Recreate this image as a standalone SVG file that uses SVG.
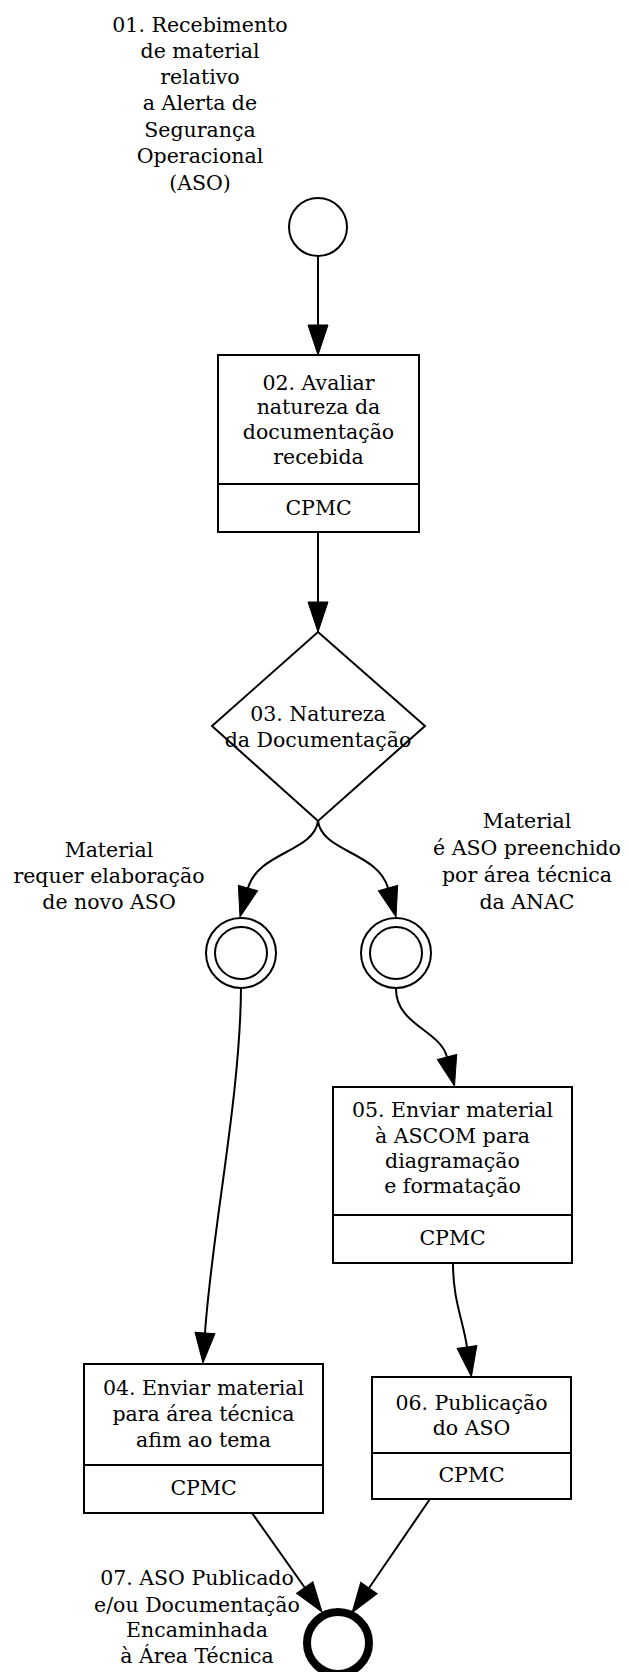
<svg xmlns="http://www.w3.org/2000/svg" width="629" height="1672" viewBox="0 0 629 1672">
<style>
text{font-family:"DejaVu Serif","Liberation Serif",serif;font-size:20.5px;fill:#000;text-anchor:middle}
.sh{fill:#fff;stroke:#000;stroke-width:2}
.ln{fill:none;stroke:#000;stroke-width:2}
.conn path{fill:none;stroke:#000;stroke-width:2}
</style>
<defs>
<marker id="ah" markerUnits="userSpaceOnUse" markerWidth="32" markerHeight="22" refX="0" refY="10" orient="auto" viewBox="0 0 32 22" overflow="visible">
<path d="M0,0 L30,10 L0,20 z" fill="#000" stroke="#000" stroke-width="1"/>
</marker>
</defs>
<rect width="629" height="1672" fill="#fff"/>
<g class="conn" id="connectors">
<path d="M318,256 L318,325" marker-end="url(#ah)"/>
<path d="M318,532 L318,602" marker-end="url(#ah)"/>
<path d="M318,821 C314,852 258,852 248,888" marker-end="url(#ah)"/>
<path d="M318,821 C322,852 378,852 388,888" marker-end="url(#ah)"/>
<path d="M241,989 C240,1100 212,1230 205,1333" marker-end="url(#ah)"/>
<path d="M396,989 C396,1025 440,1030 447,1057" marker-end="url(#ah)"/>
<path d="M453,1264 C453,1300 463,1320 467,1347" marker-end="url(#ah)"/>
<path d="M252,1513 L304.7,1587.5" marker-end="url(#ah)"/>
<path d="M430,1499 L369,1588" marker-end="url(#ah)"/>
</g>
<g id="n01">
<circle class="sh" cx="318" cy="227" r="29"/>
<text x="200" y="32">01. Recebimento</text>
<text x="200" y="58">de material</text>
<text x="200" y="84">relativo</text>
<text x="200" y="110">a Alerta de</text>
<text x="200" y="137">Segurança</text>
<text x="200" y="163">Operacional</text>
<text x="200" y="190">(ASO)</text>
</g>
<g id="n02">
<rect class="sh" x="218" y="355" width="201" height="177"/>
<line class="ln" x1="218" y1="484" x2="419" y2="484"/>
<text x="318.5" y="390">02. Avaliar</text>
<text x="318.5" y="414">natureza da</text>
<text x="318.5" y="439">documentação</text>
<text x="318.5" y="464">recebida</text>
<text x="318.5" y="515">CPMC</text>
</g>
<g id="n03">
<polygon class="sh" points="318,632 425,726 318,821 212,726"/>
<text x="318" y="721">03. Natureza</text>
<text x="318" y="747">da Documentação</text>
</g>
<g id="e_left">
<circle class="sh" cx="241" cy="953" r="35"/>
<circle class="sh" cx="241" cy="953" r="26"/>
<text x="109" y="857">Material</text>
<text x="109" y="883">requer elaboração</text>
<text x="109" y="909">de novo ASO</text>
</g>
<g id="e_right">
<circle class="sh" cx="396" cy="953" r="35"/>
<circle class="sh" cx="396" cy="953" r="26"/>
<text x="527" y="828">Material</text>
<text x="527" y="855">é ASO preenchido</text>
<text x="527" y="882">por área técnica</text>
<text x="527" y="909">da ANAC</text>
</g>
<g id="n05">
<rect class="sh" x="333" y="1087" width="239" height="176"/>
<line class="ln" x1="333" y1="1215" x2="572" y2="1215"/>
<text x="452.5" y="1117">05. Enviar material</text>
<text x="452.5" y="1143">à ASCOM para</text>
<text x="452.5" y="1168">diagramação</text>
<text x="452.5" y="1193">e formatação</text>
<text x="452.5" y="1245">CPMC</text>
</g>
<g id="n04">
<rect class="sh" x="84" y="1364" width="239" height="149"/>
<line class="ln" x1="84" y1="1465" x2="323" y2="1465"/>
<text x="203.5" y="1395">04. Enviar material</text>
<text x="203.5" y="1421">para área técnica</text>
<text x="203.5" y="1447">afim ao tema</text>
<text x="203.5" y="1495">CPMC</text>
</g>
<g id="n06">
<rect class="sh" x="372" y="1377" width="199" height="122"/>
<line class="ln" x1="372" y1="1453" x2="571" y2="1453"/>
<text x="471.5" y="1410">06. Publicação</text>
<text x="471.5" y="1435">do ASO</text>
<text x="471.5" y="1482">CPMC</text>
</g>
<g id="n07">
<circle cx="338" cy="1643" r="31" fill="#fff" stroke="#000" stroke-width="8"/>
<text x="197" y="1585">07. ASO Publicado</text>
<text x="197" y="1612">e/ou Documentação</text>
<text x="197" y="1637">Encaminhada</text>
<text x="197" y="1663">à Área Técnica</text>
</g>
</svg>
